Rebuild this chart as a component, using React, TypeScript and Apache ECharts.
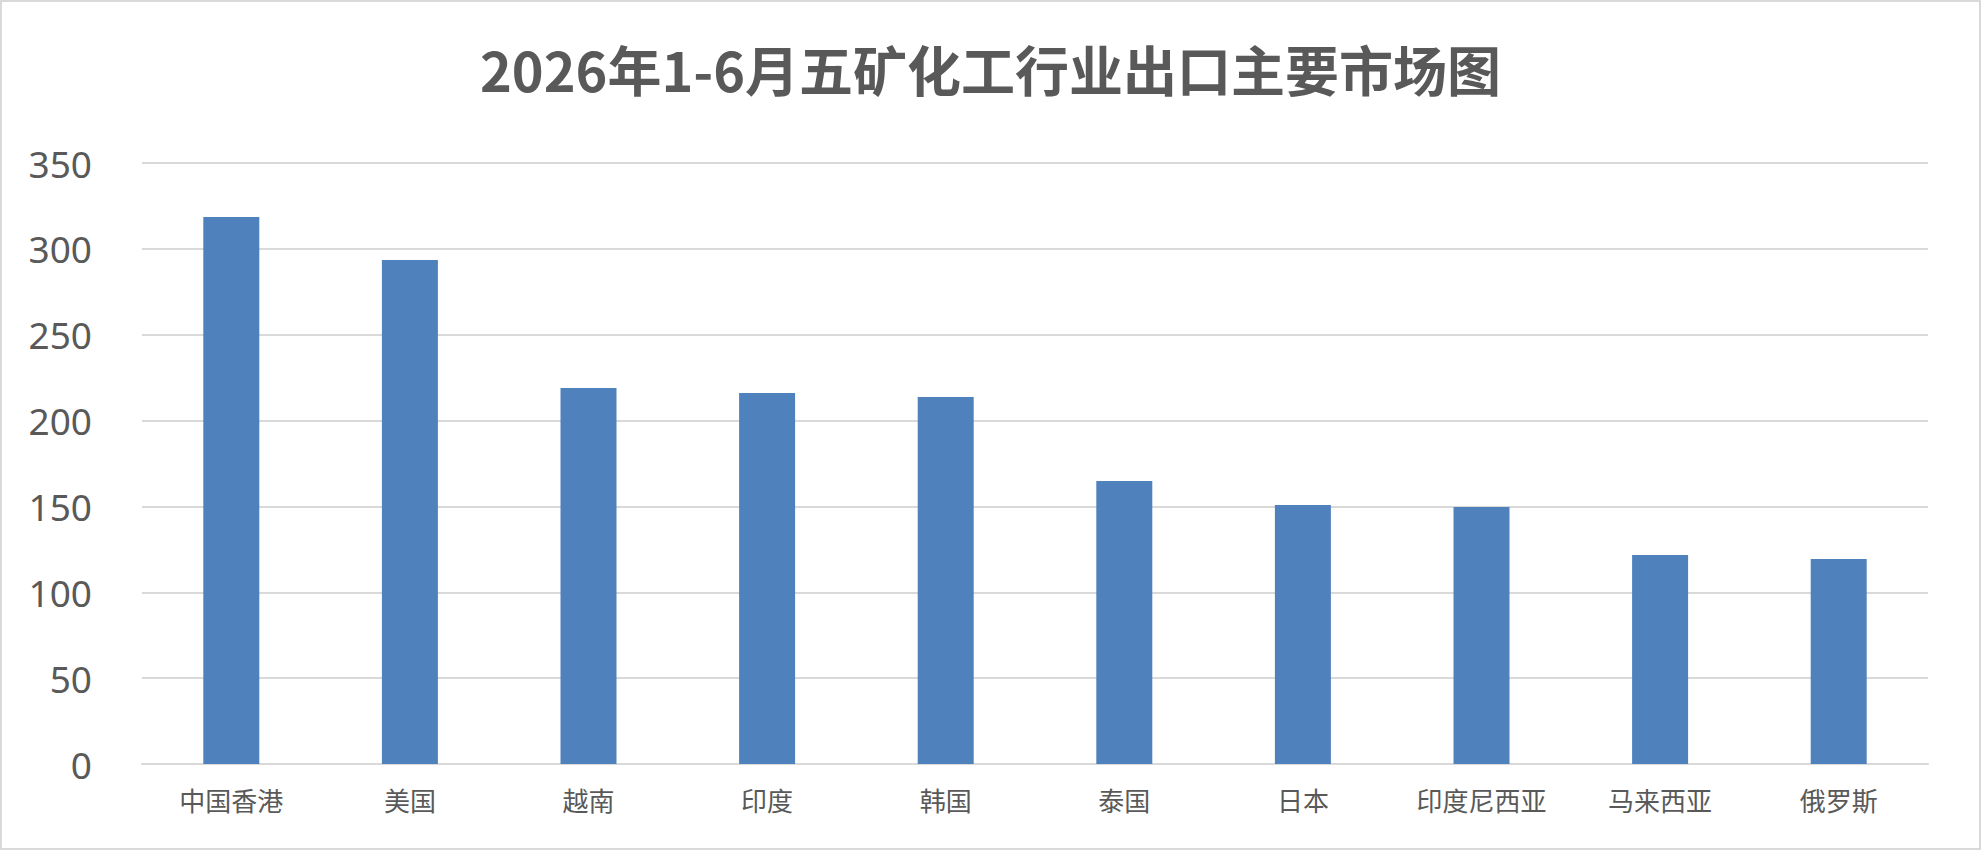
import React, { useEffect, useRef } from "react";
import * as echarts from "echarts";

const categories = ["中国香港", "美国", "越南", "印度", "韩国", "泰国", "日本", "印度尼西亚", "马来西亚", "俄罗斯"];
const values = [318.6, 293.5, 219.0, 216.1, 213.7, 164.8, 150.8, 149.7, 121.7, 119.4];
const titleText = "2026年1-6月五矿化工行业出口主要市场图";

export default function App() {
  const ref = useRef<HTMLDivElement>(null);
  useEffect(() => {
    document.body.style.margin = "0";
    const chart = echarts.init(ref.current!, null, { renderer: "svg" });
    chart.setOption({
      animation: false,
      backgroundColor: "#ffffff",
      title: {
        text: titleText,
        left: "center",
        top: 36,
        textStyle: {
          fontFamily: "'Noto Sans CJK SC', 'Noto Sans', sans-serif",
          fontWeight: "bold",
          fontSize: 54,
          color: "#595959",
        },
      },
      graphic: [
        {
          type: "rect",
          shape: { x: 1, y: 1, width: 1979, height: 848 },
          style: { fill: "none", stroke: "#d9d9d9", lineWidth: 2 },
          silent: true,
        },
      ],
      grid: { left: 142, right: 53, top: 163, bottom: 86, containLabel: false },
      xAxis: {
        type: "category",
        data: categories,
        axisLine: { show: true, lineStyle: { color: "#d9d9d9", width: 2 } },
        axisTick: { show: false },
        axisLabel: {
          color: "#595959",
          fontSize: 26,
          margin: 22,
          fontFamily: "'Noto Sans CJK SC', sans-serif",
        },
      },
      yAxis: {
        type: "value",
        min: 0,
        max: 350,
        interval: 50,
        axisLine: { show: false },
        axisTick: { show: false },
        splitLine: { lineStyle: { color: "#d9d9d9", width: 2 } },
        axisLabel: {
          color: "#595959",
          fontSize: 37,
          margin: 50,
          fontFamily: "'Noto Sans', sans-serif",
        },
      },
      series: [
        {
          type: "bar",
          data: values,
          barWidth: 56,
          itemStyle: { color: "#4f81bd" },
        },
      ],
    });
    return () => chart.dispose();
  }, []);
  return <div ref={ref} style={{ width: 1981, height: 850 }} />;
}
